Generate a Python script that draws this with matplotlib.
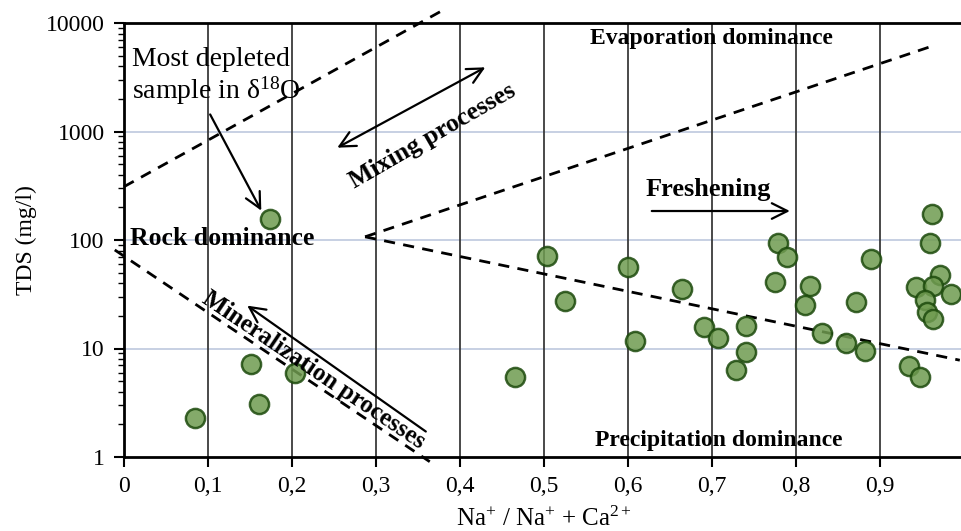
import matplotlib
matplotlib.use("Agg")
from matplotlib import pyplot as plt
from matplotlib.ticker import FixedLocator, LogLocator, NullFormatter
import numpy as np

# samples: Na+/(Na+ + Ca2+) ratio and TDS (mg/l)
ratio = [0.085, 0.151, 0.161, 0.204, 0.174,
         0.962, 0.959, 0.779, 0.789, 0.889, 0.503, 0.600,
         0.972, 0.943, 0.963, 0.984, 0.953, 0.956, 0.963,
         0.775, 0.817, 0.811, 0.871, 0.525, 0.664, 0.690,
         0.707, 0.608, 0.740, 0.740, 0.729, 0.831, 0.860,
         0.882, 0.934, 0.948, 0.465]
tds = [2.27, 7.2, 3.06, 6.0, 155,
       172, 93, 93, 69, 67, 71, 56.8,
       47.6, 37, 37.7, 31.6, 28, 21.8, 18.6,
       40.7, 38, 25.2, 27, 27.6, 35.1, 15.9,
       12.4, 11.8, 16.1, 9.2, 6.3, 13.8, 11.3,
       9.55, 6.95, 5.42, 5.5]

# Gibbs boundary lines (dashed)
mixing_upper_x = [0.0, 0.384]
mixing_upper_y = [310, 13700]
evap_x = [0.287, 0.960]
evap_y = [107, 6050]
precip_x = [0.287, 0.995]
precip_y = [107, 7.8]
rock_x = [-0.011, 0.364]
rock_y = [81, 0.905]

xticks = np.round(np.arange(0, 1.0, 0.1), 1)
xticklabels = ["0"] + [f"{t:.1f}".replace(".", ",") for t in xticks[1:]]
yticks = [1, 10, 100, 1000, 10000]

plt.rcParams["font.family"] = ["Liberation Serif", "DejaVu Serif"]
plt.rcParams["mathtext.fontset"] = "custom"
plt.rcParams["mathtext.rm"] = "Liberation Serif"
plt.rcParams["mathtext.it"] = "Liberation Serif:italic"
plt.rcParams["mathtext.bf"] = "Liberation Serif:bold"

fig = plt.figure(figsize=(9.61, 5.31), dpi=100)
ax = fig.add_axes([124 / 961, 74 / 531, 840 / 961, 434 / 531])

ax.set_yscale("log")
ax.set_xlim(0, 1)
ax.set_ylim(1, 10000)

# grid
for xv in xticks[1:]:
    ax.axvline(xv, color="#3a3a3a", lw=1.3, zorder=1)
for yv in [10, 100, 1000]:
    ax.axhline(yv, color="#c3cde0", lw=1.3, zorder=0)

dash = dict(color="black", lw=2, linestyle=(0, (4, 3)), clip_on=False, zorder=3)
ax.plot(mixing_upper_x, mixing_upper_y, **dash)
ax.plot(evap_x, evap_y, **dash)
ax.plot(precip_x, precip_y, **dash)
ax.plot(rock_x, rock_y, **dash)

ax.scatter(ratio, tds, s=190, facecolor="#6f9b50", edgecolor="#1c4a0c",
           linewidth=1.8, alpha=0.85, zorder=4)

arrow = dict(arrowstyle="->", color="black", lw=1.6, mutation_scale=28)
ax.annotate("", xy=(0.165, 177), xytext=(0.101, 1513), arrowprops=arrow, zorder=5)
ax.annotate("", xy=(0.796, 185), xytext=(0.625, 185), arrowprops=arrow, zorder=5)
ax.annotate("", xy=(0.144, 25.7), xytext=(0.362, 1.66), arrowprops=arrow, zorder=5)
ax.annotate("", xy=(0.433, 4015), xytext=(0.251, 690),
            arrowprops=dict(arrowstyle="<->", color="black", lw=1.6, mutation_scale=28), zorder=5)

ax.text(0.0095, 6050, "Most depleted\nsample in δ$^{18}$O", fontsize=20,
        va="top", ha="left", linespacing=1.1, zorder=6)
ax.text(0.007, 104, "Rock dominance", fontsize=18.5, fontweight="bold",
        va="center", ha="left", zorder=6)
ax.text(0.699, 7270, "Evaporation dominance", fontsize=17, fontweight="bold",
        va="center", ha="center", zorder=6)
ax.text(0.708, 1.43, "Precipitation dominance", fontsize=17, fontweight="bold",
        va="center", ha="center", zorder=6)
ax.text(0.695, 289, "Freshening", fontsize=19, fontweight="bold",
        va="center", ha="center", zorder=6)
ax.text(0.367, 908, "Mixing processes", fontsize=18.5, fontweight="bold",
        va="center", ha="center", rotation=30, rotation_mode="anchor", zorder=6)
ax.text(0.226, 6.34, "Mineralization processes", fontsize=18, fontweight="bold",
        va="center", ha="center", rotation=-34, rotation_mode="anchor", zorder=6)

ax.xaxis.set_major_locator(FixedLocator(xticks))
ax.set_xticklabels(xticklabels)
ax.yaxis.set_major_locator(FixedLocator(yticks))
ax.set_yticklabels([str(v) for v in yticks])
ax.yaxis.set_minor_locator(LogLocator(base=10, subs=np.arange(2, 10)))
ax.yaxis.set_minor_formatter(NullFormatter())
ax.tick_params(axis="both", which="major", labelsize=17, direction="out",
               length=7, width=1.5, pad=7)
ax.tick_params(axis="y", which="minor", direction="out", length=4, width=1.0)

for side in ["left", "bottom", "top"]:
    ax.spines[side].set_linewidth(2)
ax.spines["right"].set_visible(False)

ax.set_xlabel("Na$^{+}$ / Na$^{+}$ + Ca$^{2+}$", fontsize=18, labelpad=7)
ax.set_ylabel("TDS (mg/l)", fontsize=17, labelpad=6)

fig.savefig("out.png", dpi=100)
